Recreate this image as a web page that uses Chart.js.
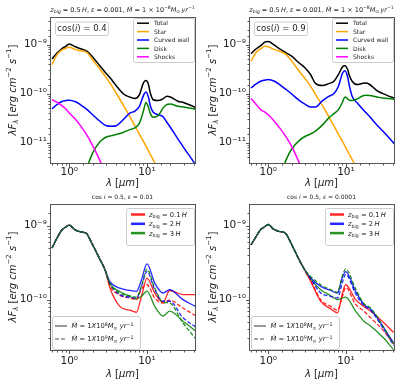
<!DOCTYPE html>
<html>
<head>
<meta charset="utf-8">
<script src="https://cdn.jsdelivr.net/npm/chart.js@4.4.1/dist/chart.umd.min.js"></script>
<style>
  html, body { margin: 0; padding: 0; background: #fff; }
  #fig { position: relative; width: 400px; height: 383px; overflow: hidden; }
  #fig canvas { position: absolute; }
</style>
</head>
<body>
<div id="fig">
  <canvas id="c1" width="200" height="190" style="left:0px;top:0px"></canvas>
  <canvas id="c2" width="200" height="190" style="left:200px;top:0px"></canvas>
  <canvas id="c3" width="200" height="193" style="left:0px;top:190px"></canvas>
  <canvas id="c4" width="200" height="193" style="left:200px;top:190px"></canvas>
</div>
<script>
// ---- data (wavelength in micron, lambda F_lambda in erg cm^-2 s^-1) ----
const lamTop = [0.6, 0.7, 0.8, 0.9, 1.0, 1.2, 1.4, 1.7, 2.0, 2.5, 3.0, 3.5, 4.0, 5.0, 6.0, 7.0, 8.0, 9.0, 9.7, 10.5, 11, 12, 14, 16, 18, 20, 25, 30, 40, 45];

// cos(i) = 0.4
const p1Total = [5.1e-10, 6.8e-10, 8.2e-10, 9.2e-10, 1.03e-9, 9.0e-10, 8.2e-10, 7.3e-10, 5.6e-10, 3.6e-10, 2.56e-10, 1.93e-10, 1.46e-10, 9.8e-11, 8.5e-11, 7.9e-11, 9.5e-11, 1.65e-10, 1.84e-10, 1.5e-10, 1.05e-10, 7.5e-11, 7.2e-11, 7.8e-11, 8.8e-11, 8.5e-11, 7.0e-11, 6.5e-11, 5.4e-11, 4.7e-11];
const p1Star = [3.9e-10, 6.3e-10, 7.7e-10, 8.4e-10, 8.8e-10, 7.9e-10, 7.5e-10, 6.8e-10, 4.9e-10, 3.1e-10, 2.09e-10, 1.46e-10, 1.03e-10, 5.7e-11, 3.4e-11, 2.2e-11, 1.48e-11, 1.06e-11, 8.5e-12, 6.7e-12, 5.8e-12, 4.5e-12, 2.8e-12, null, null, null, null, null, null, null];
const p1Wall = [4.9e-11, 6.0e-11, 6.9e-11, 7.2e-11, 7.3e-11, 6.8e-11, 5.9e-11, 4.7e-11, 3.7e-11, 2.7e-11, 2.2e-11, 2.15e-11, 2.2e-11, 3.0e-11, 4.0e-11, 4.4e-11, 5.5e-11, 9.1e-11, 1.08e-10, 8.2e-11, 5.7e-11, 4.2e-11, 3.7e-11, 3.4e-11, 2.6e-11, 2.06e-11, 1.19e-11, 7.7e-12, 4.0e-12, 2.9e-12];
const p1Disk = [null, null, null, null, null, null, null, 3.2e-12, 6.2e-12, 1.06e-11, 1.3e-11, 1.39e-11, 1.46e-11, 1.63e-11, 1.84e-11, 2.0e-11, 2.5e-11, 4.4e-11, 6.6e-11, 5.1e-11, 4.0e-11, 3.3e-11, 3.6e-11, 5.0e-11, 6.0e-11, 6.1e-11, 5.5e-11, 5.3e-11, 4.9e-11, 4.6e-11];
const p1Shock = [7.5e-11, 6.6e-11, 5.7e-11, 4.9e-11, 4.0e-11, 3.0e-11, 2.2e-11, 1.39e-11, 8.7e-12, 4.2e-12, 2.0e-12, null, null, null, null, null, null, null, null, null, null, null, null, null, null, null, null, null, null, null];

// cos(i) = 0.9
const p2Total = [6.5e-10, 8.2e-10, 9.5e-10, 1.12e-9, 1.15e-9, 9.7e-10, 8.2e-10, 6.8e-10, 5.8e-10, 4.2e-10, 3.3e-10, 2.45e-10, 1.65e-10, 1.46e-10, 1.6e-10, 1.79e-10, 2.45e-10, 3.5e-10, 3.7e-10, 3.1e-10, 2.4e-10, 1.79e-10, 1.53e-10, 1.6e-10, 1.65e-10, 1.55e-10, 1.15e-10, 1.0e-10, 8.3e-11, 7.9e-11];
const p2Star = [4.57e-10, 7.0e-10, 8.2e-10, 9.2e-10, 9.0e-10, 7.9e-10, 7.3e-10, 6.25e-10, 4.6e-10, 2.86e-10, 2.0e-10, 1.42e-10, 1.0e-10, 5.6e-11, 3.4e-11, 2.2e-11, 1.48e-11, 1.06e-11, 8.5e-12, 6.7e-12, 5.8e-12, 4.5e-12, 2.8e-12, null, null, null, null, null, null, null];
const p2Wall = [1.3e-10, 1.58e-10, 1.79e-10, 1.88e-10, 1.93e-10, 1.79e-10, 1.53e-10, 1.21e-10, 9.8e-11, 7.3e-11, 6.0e-11, 5.35e-11, 5.3e-11, 7.2e-11, 8.8e-11, 1.0e-10, 1.41e-10, 2.6e-10, 2.94e-10, 2.2e-10, 1.5e-10, 8.8e-11, 6.4e-11, 5.0e-11, 4.1e-11, 3.45e-11, 2.3e-11, 1.7e-11, 1.03e-11, 8.3e-12];
const p2Disk = [null, null, null, null, null, null, 2.0e-12, 4.5e-12, 7.4e-12, 1.1e-11, 1.35e-11, 1.5e-11, 1.7e-11, 2.3e-11, 3.2e-11, 3.9e-11, 4.7e-11, 6.65e-11, 8.55e-11, 7.8e-11, 7.4e-11, 7.2e-11, 7.8e-11, 8.8e-11, 9.2e-11, 9.1e-11, 8.55e-11, 8.1e-11, 7.8e-11, 7.5e-11];
const p2Shock = [7.9e-11, 6.0e-11, 4.7e-11, 4.2e-11, 3.7e-11, 2.7e-11, 2.0e-11, 1.3e-11, 8.4e-12, 3.9e-12, 1.9e-12, null, null, null, null, null, null, null, null, null, null, null, null, null, null, null, null, null, null, null];

// cos i = 0.5, eps = 0.01
const lamBot3 = [0.6, 0.7, 0.8, 0.9, 1.0, 1.17, 1.37, 1.65, 1.95, 2.45, 2.9, 3.33, 4.47, 6.0, 7.3, 8.5, 10, 12.6, 16.1, 19.6, 29, 43];
const p3RedSolid = [5.0e-10, 6.9e-10, 8.7e-10, 9.6e-10, 1.02e-9, 8.9e-10, 8.3e-10, 7.9e-10, 5.8e-10, 3.6e-10, 2.5e-10, 1.45e-10, 8.1e-11, 7.2e-11, 6.75e-11, 1.11e-10, 1.95e-10, 1.23e-10, 9.2e-11, 1.33e-10, 1.17e-10, 1.17e-10];
const p3RedDash = [5.0e-10, 6.9e-10, 8.7e-10, 9.6e-10, 1.02e-9, 8.9e-10, 8.3e-10, 7.9e-10, 5.8e-10, 3.6e-10, 2.5e-10, 1.55e-10, 1.15e-10, 1.05e-10, 1.0e-10, 1.4e-10, 1.59e-10, 1.05e-10, 9.0e-11, 9.8e-11, 7.7e-11, 6.0e-11];
const p3BlueSolid = [5.0e-10, 6.9e-10, 8.7e-10, 9.6e-10, 1.02e-9, 8.9e-10, 8.3e-10, 7.9e-10, 5.8e-10, 3.6e-10, 2.5e-10, 1.75e-10, 1.43e-10, 1.33e-10, 1.29e-10, 1.86e-10, 3.05e-10, 1.67e-10, 1.23e-10, 1.36e-10, 1.0e-10, 8.0e-11];
const p3BlueDash = [5.0e-10, 6.9e-10, 8.7e-10, 9.6e-10, 1.02e-9, 8.9e-10, 8.3e-10, 7.9e-10, 5.8e-10, 3.6e-10, 2.5e-10, 1.65e-10, 1.17e-10, 1.08e-10, 1.05e-10, 1.51e-10, 2.4e-10, 1.36e-10, 9.5e-11, 9.5e-11, 5.7e-11, 4.2e-11];
const p3GreenSolid = [5.0e-10, 6.9e-10, 8.7e-10, 9.6e-10, 1.02e-9, 8.9e-10, 8.3e-10, 7.9e-10, 5.8e-10, 3.6e-10, 2.5e-10, 1.65e-10, 1.29e-10, 1.11e-10, 1.02e-10, 1.11e-10, 1.3e-10, 8.1e-11, 6.0e-11, 7.0e-11, 5.1e-11, 3.7e-11];
const p3GreenDash = [5.0e-10, 6.9e-10, 8.7e-10, 9.6e-10, 1.02e-9, 8.9e-10, 8.3e-10, 7.9e-10, 5.8e-10, 3.6e-10, 2.5e-10, 1.65e-10, 1.23e-10, 1.13e-10, 1.08e-10, 1.54e-10, 2.58e-10, 1.43e-10, 9.2e-11, 9.0e-11, 4.85e-11, 2.9e-11];

// cos i = 0.5, eps = 0.0001
const lamBot4 = [0.6, 0.7, 0.8, 0.9, 1.0, 1.17, 1.37, 1.65, 1.95, 2.45, 2.9, 3.53, 4.73, 6.36, 7.75, 8.98, 9.9, 13.3, 17, 20.7, 30.7, 41];
const p4RedSolid = [5.5e-10, 7.2e-10, 8.9e-10, 9.7e-10, 1.04e-9, 9.0e-10, 8.4e-10, 8.0e-10, 5.9e-10, 3.6e-10, 2.6e-10, 1.75e-10, 9.5e-11, 7.5e-11, 6.6e-11, 1.2e-10, 1.59e-10, 1.0e-10, 8.1e-11, 7.0e-11, 4.85e-11, 3.6e-11];
const p4RedDash = [5.5e-10, 7.2e-10, 8.9e-10, 9.7e-10, 1.04e-9, 9.0e-10, 8.4e-10, 8.0e-10, 5.9e-10, 3.6e-10, 2.6e-10, 1.8e-10, 1.0e-10, 8.1e-11, 7.2e-11, 1.1e-10, 1.46e-10, 8.6e-11, 7.0e-11, 5.7e-11, 3.74e-11, 2.5e-11];
const p4BlueSolid = [5.5e-10, 7.2e-10, 8.9e-10, 9.7e-10, 1.04e-9, 9.0e-10, 8.4e-10, 8.0e-10, 5.9e-10, 3.6e-10, 2.6e-10, 1.95e-10, 1.51e-10, 1.33e-10, 1.23e-10, 2.0e-10, 2.4e-10, 1.3e-10, 8.6e-11, 7.5e-11, 4.15e-11, 2.6e-11];
const p4BlueDash = [5.5e-10, 7.2e-10, 8.9e-10, 9.7e-10, 1.04e-9, 9.0e-10, 8.4e-10, 8.0e-10, 5.9e-10, 3.6e-10, 2.6e-10, 1.9e-10, 1.23e-10, 1.11e-10, 1.05e-10, 1.7e-10, 2.2e-10, 1.2e-10, 8.3e-11, 7.2e-11, 3.95e-11, 2.4e-11];
const p4GreenSolid = [5.5e-10, 7.2e-10, 8.9e-10, 9.7e-10, 1.04e-9, 9.0e-10, 8.4e-10, 8.0e-10, 5.9e-10, 3.6e-10, 2.6e-10, 1.9e-10, 1.36e-10, 1.13e-10, 1.0e-10, 1.05e-10, 1.08e-10, 7.0e-11, 5.1e-11, 4.4e-11, 3.0e-11, 2.1e-11];
const p4GreenDash = [5.5e-10, 7.2e-10, 8.9e-10, 9.7e-10, 1.04e-9, 9.0e-10, 8.4e-10, 8.0e-10, 5.9e-10, 3.6e-10, 2.6e-10, 2.05e-10, 1.59e-10, 1.36e-10, 1.26e-10, 2.1e-10, 2.6e-10, 1.4e-10, 8.8e-11, 7.7e-11, 4.15e-11, 2.5e-11];

const topLegendLabels = ['Total', 'Star', 'Curved wall', 'Disk', 'Shocks'];
const cosValues = ['0.4', '0.9'];
const epsValues = ['0.01', '0.0001'];
const zbigValues = ['0.1', '2', '3'];
const mdotExps = ['8', '9'];

const xRange = [0.565, 41.5];
const yRangeTop = [3.84e-12, 3.65e-9];
const yRangeBot = [2.08e-11, 1.97e-9];

// ---- styling ----
const SANS = '"DejaVu Sans", sans-serif';
const compColors = ['#000000', '#ffa500', '#0000ff', '#008000', '#ff00ff'];
const zColors = ['rgba(255,0,0,0.85)', 'rgba(0,0,255,0.85)', 'rgba(0,128,0,0.85)'];
const DASH = [4, 2];

// rich text pieces: italic, roman, subscript, superscript
const it = t => ({ t, it: true });
const rm = t => ({ t });
const sb = (t, i) => ({ t, it: !!i, pos: 'sub' });
const sp = t => ({ t, pos: 'sup' });

function segFont(s, size) {
  const sz = s.pos ? size * 0.7 : size;
  return (s.it ? 'italic ' : '') + sz.toFixed(2) + 'px ' + SANS;
}
function drawRich(ctx, segs, x, y, size, align) {
  let w = 0;
  segs.forEach(s => { ctx.font = segFont(s, size); w += ctx.measureText(s.t).width; });
  let cx = align === 'center' ? x - w / 2 : (align === 'right' ? x - w : x);
  ctx.textAlign = 'left';
  ctx.textBaseline = 'alphabetic';
  segs.forEach(s => {
    ctx.font = segFont(s, size);
    const dy = s.pos === 'sup' ? -size * 0.42 : (s.pos === 'sub' ? size * 0.2 : 0);
    ctx.fillText(s.t, cx, y + dy);
    cx += ctx.measureText(s.t).width;
  });
}

const SUP = { '−': '⁻', '0': '⁰', '1': '¹', '2': '²', '3': '³', '4': '⁴', '5': '⁵', '6': '⁶', '7': '⁷', '8': '⁸', '9': '⁹' };
function isDecade(v) {
  const e = Math.log10(v);
  return Math.abs(e - Math.round(e)) < 1e-6;
}
function decadeLabel(v) {
  if (!isDecade(v)) return '';
  const e = String(Math.round(Math.log10(v))).replace('-', '−');
  return '10' + e.split('').map(c => SUP[c]).join('');
}

const topTitle = [it('z'), sb('big', true), rm(' = 0.5\u2009'), it('H'), rm(', '), it('ε'), rm(' = 0.001, '), it('Ṁ'),
  rm(' = 1 × 10'), sp('−8'), it('M'), sb('⊙'), rm('\u2009'), it('yr'), sp('−1')];
const botTitle = eps => [rm('cos '), it('i'), rm(' = 0.5, '), it('ε'), rm(' = ' + eps)];
const yLabel = [it('λF'), sb('λ', true), rm(' ['), it('erg'), rm(' '), it('cm'), sp('−2'), rm(' '), it('s'), sp('−1'), rm(']')];
const xLabel = [it('λ'), rm(' ['), it('μm'), rm(']')];

function topLegend() {
  return {
    anchor: 'tr', mx: 1, my: 1, w: 61, h: 44, y0: 5.2, gap: 8.4, hx: 4, hl: 12, tx: 21, size: 6,
    rows: topLegendLabels.map((l, i) => ({ color: compColors[i], lw: 1.5, segs: [rm(l)] }))
  };
}
function cosBox(v) {
  return { anchor: 'tl', mx: 5, my: 4.5, w: 53, h: 13.5, y0: 6.8, gap: 0, size: 8.5,
    rows: [{ segs: [rm('cos('), it('i'), rm(') = ' + v)] }] };
}
function zLegend() {
  return {
    anchor: 'tr', mx: 1, my: 4, w: 68, h: 37, y0: 6.5, gap: 9.3, hx: 5, hl: 14, tx: 23, size: 6.75,
    rows: zbigValues.map((v, i) => ({ color: zColors[i], lw: 2.5, segs: [it('z'), sb('big'), rm(' = ' + v + '\u2009'), it('H')] }))
  };
}
function mdotLegend() {
  return {
    anchor: 'bl', mx: 2, my: 1, w: 88, h: 33, y0: 10, gap: 13, hx: 3, hl: 12, tx: 19.5, size: 6.75,
    rows: mdotExps.map((e, i) => ({ color: '#555', lw: 1.2, dash: i ? DASH : null,
      segs: [it('Ṁ'), rm(' = 1'), it('X'), rm('10'), sp(e), it('M'), sb('⊙'), rm(' '), it('yr'), sp('−1')] }))
  };
}

const DECO = {
  c1: { title: topTitle, titleY: 11.5, titleSize: 6.5, xLabelDy: 22.5, yLabelX: 12, boxes: [cosBox(cosValues[0]), topLegend()] },
  c2: { title: topTitle, titleY: 11.5, titleSize: 6.5, xLabelDy: 22.5, yLabelX: 12, boxes: [cosBox(cosValues[1]), topLegend()] },
  c3: { title: botTitle(epsValues[0]), titleY: 9, titleSize: 6, xLabelDy: 26.5, yLabelX: 12, boxes: [zLegend(), mdotLegend()] },
  c4: { title: botTitle(epsValues[1]), titleY: 9, titleSize: 6, xLabelDy: 26.5, yLabelX: 12, boxes: [zLegend(), mdotLegend()] }
};

const decoPlugin = {
  id: 'deco',
  afterDraw(chart) {
    const d = DECO[chart.canvas.id];
    const { ctx, chartArea: a } = chart;
    ctx.save();
    // axes frame
    ctx.strokeStyle = '#555';
    ctx.lineWidth = 1;
    ctx.strokeRect(a.left + 0.5, a.top + 0.5, a.right - a.left, a.bottom - a.top);
    // outward tick marks (major at decades, minor elsewhere)
    ctx.beginPath();
    const sx = chart.scales.x, sy = chart.scales.y;
    sx.ticks.forEach(t => {
      const p = Math.round(sx.getPixelForValue(t.value)) + 0.5;
      if (p <= a.left + 1 || p >= a.right) return;
      const len = isDecade(t.value) ? 3.5 : 2;
      ctx.moveTo(p, a.bottom + 0.5);
      ctx.lineTo(p, a.bottom + 0.5 + len);
    });
    sy.ticks.forEach(t => {
      const p = Math.round(sy.getPixelForValue(t.value)) + 0.5;
      if (p <= a.top + 1 || p >= a.bottom) return;
      const len = isDecade(t.value) ? 3.5 : 2;
      ctx.moveTo(a.left + 0.5, p);
      ctx.lineTo(a.left + 0.5 - len, p);
    });
    ctx.stroke();
    // title and axis labels
    ctx.fillStyle = '#222';
    const cx = (a.left + a.right) / 2;
    drawRich(ctx, d.title, cx, d.titleY, d.titleSize, 'center');
    drawRich(ctx, xLabel, cx, a.bottom + d.xLabelDy, 10, 'center');
    ctx.save();
    ctx.translate(d.yLabelX, (a.top + a.bottom) / 2);
    ctx.rotate(-Math.PI / 2);
    drawRich(ctx, yLabel, 0, 3.5, 10, 'center');
    ctx.restore();
    // legend boxes
    d.boxes.forEach(b => {
      const x = b.anchor[1] === 'r' ? a.right - b.mx - b.w : a.left + b.mx;
      const y = b.anchor[0] === 't' ? a.top + b.my : a.bottom - b.my - b.h;
      ctx.beginPath();
      ctx.roundRect(x + 0.5, y + 0.5, b.w, b.h, 2);
      ctx.fillStyle = 'rgba(255,255,255,0.85)';
      ctx.fill();
      ctx.strokeStyle = '#cccccc';
      ctx.lineWidth = 1;
      ctx.stroke();
      b.rows.forEach((r, i) => {
        const ry = y + b.y0 + i * b.gap;
        if (r.color) {
          ctx.beginPath();
          ctx.strokeStyle = r.color;
          ctx.lineWidth = r.lw;
          ctx.setLineDash(r.dash || []);
          ctx.moveTo(x + b.hx, ry);
          ctx.lineTo(x + b.hx + b.hl, ry);
          ctx.stroke();
          ctx.setLineDash([]);
        }
        ctx.fillStyle = '#222';
        if (r.color) drawRich(ctx, r.segs, x + b.tx, ry + b.size * 0.36, b.size, 'left');
        else drawRich(ctx, r.segs, x + b.w / 2 + 0.5, ry + b.size * 0.36, b.size, 'center');
      });
    });
    ctx.restore();
  }
};

function series(lam, vals, color, lw, dash, i) {
  return {
    data: lam.map((x, k) => ({ x, y: vals[k] })),
    borderColor: color, borderWidth: lw, borderDash: dash || [],
    fill: false, pointRadius: 0, clip: 0, order: -i,
    cubicInterpolationMode: 'monotone'
  };
}

function makePanel(id, datasets, yRange, yW, xH, pad, xPad) {
  const tickFont = { family: 'DejaVu Sans', size: 10.5 };
  return new Chart(document.getElementById(id), {
    type: 'line',
    data: { datasets },
    options: {
      responsive: false, animation: false, devicePixelRatio: 1,
      layout: { padding: pad },
      plugins: { legend: { display: false }, tooltip: { enabled: false } },
      scales: {
        x: {
          type: 'logarithmic', min: xRange[0], max: xRange[1],
          grid: { display: false, drawTicks: false }, border: { display: false },
          ticks: { autoSkip: false, maxRotation: 0, minRotation: 0, padding: xPad, font: tickFont, color: '#222', callback: v => decadeLabel(v) },
          afterFit: s => { s.height = xH; s.paddingLeft = 0; s.paddingRight = 0; }
        },
        y: {
          type: 'logarithmic', min: yRange[0], max: yRange[1],
          grid: { display: false, drawTicks: false }, border: { display: false },
          ticks: { autoSkip: false, padding: 3, font: tickFont, color: '#222', callback: v => decadeLabel(v) },
          afterFit: s => { s.width = yW; s.paddingTop = 0; s.paddingBottom = 0; }
        }
      }
    },
    plugins: [decoPlugin]
  });
}

const top1 = [p1Total, p1Star, p1Wall, p1Disk, p1Shock].map((v, i) => series(lamTop, v, compColors[i], 1.5, null, i));
const top2 = [p2Total, p2Star, p2Wall, p2Disk, p2Shock].map((v, i) => series(lamTop, v, compColors[i], 1.5, null, i));
const bot3 = [
  series(lamBot3, p3RedSolid, zColors[0], 1.3, null, 0),
  series(lamBot3, p3BlueSolid, zColors[1], 1.3, null, 1),
  series(lamBot3, p3GreenSolid, zColors[2], 1.3, null, 2),
  series(lamBot3, p3RedDash, zColors[0], 1.3, DASH, 3),
  series(lamBot3, p3BlueDash, zColors[1], 1.3, DASH, 4),
  series(lamBot3, p3GreenDash, zColors[2], 1.3, DASH, 5)
];
const bot4 = [
  series(lamBot4, p4RedSolid, zColors[0], 1.3, null, 0),
  series(lamBot4, p4BlueSolid, zColors[1], 1.3, null, 1),
  series(lamBot4, p4GreenSolid, zColors[2], 1.3, null, 2),
  series(lamBot4, p4RedDash, zColors[0], 1.3, DASH, 3),
  series(lamBot4, p4BlueDash, zColors[1], 1.3, DASH, 4),
  series(lamBot4, p4GreenDash, zColors[2], 1.3, DASH, 5)
];

makePanel('c1', top1, yRangeTop, 50, 27, { left: 0, top: 17, right: 5, bottom: 0 }, 3);
makePanel('c2', top2, yRangeTop, 49, 27, { left: 0, top: 17, right: 6, bottom: 0 }, 3);
makePanel('c3', bot3, yRangeBot, 50, 33, { left: 0, top: 14, right: 5, bottom: 0 }, 5);
makePanel('c4', bot4, yRangeBot, 49, 33, { left: 0, top: 14, right: 6, bottom: 0 }, 5);
</script>
</body>
</html>
